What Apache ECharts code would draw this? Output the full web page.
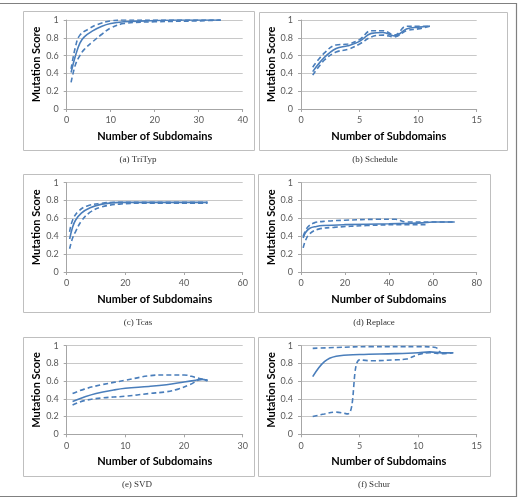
<!DOCTYPE html>
<html><head><meta charset="utf-8">
<script src="https://cdn.jsdelivr.net/npm/echarts@6/dist/echarts.min.js"></script>
<style>html,body{margin:0;padding:0;background:#fff;}#c{width:519px;height:499px;}</style>
</head><body><div id="c"></div>
<script>
// ---- Data (x = number of subdomains, y = mutation score) ----
const captions = ['(a) TriTyp', '(b) Schedule', '(c) Tcas', '(d) Replace', '(e) SVD', '(f) Schur'];
const xMaxes = [40, 15, 60, 80, 30, 15];
const xIntervals = [10, 5, 20, 20, 10, 5];
const yTicks = [0, 0.2, 0.4, 0.6, 0.8, 1];

const tritypMean  = [[1,0.41],[2,0.6],[3,0.74],[4,0.81],[6,0.88],[8,0.93],[10,0.96],[13,0.98],[18,0.99],[25,1.0],[35,1.0]];
const tritypUpper = [[1,0.45],[2,0.7],[3,0.83],[5,0.9],[7,0.95],[10,0.99],[13,1.0],[20,1.0],[35,1.0]];
const tritypLower = [[1,0.3],[2,0.5],[3,0.6],[4,0.67],[6,0.76],[8,0.84],[10,0.91],[13,0.96],[20,0.98],[30,0.99],[35,1.0]];

const scheduleMean  = [[1,0.42],[2,0.58],[3,0.68],[4,0.71],[5,0.76],[6,0.85],[7,0.86],[8,0.82],[9,0.9],[10,0.92],[11,0.93]];
const scheduleUpper = [[1,0.47],[2,0.63],[3,0.72],[4,0.73],[5,0.78],[6,0.88],[7,0.88],[8,0.83],[9,0.93],[10,0.93],[11,0.93]];
const scheduleLower = [[1,0.38],[2,0.55],[3,0.64],[4,0.67],[5,0.73],[6,0.81],[7,0.83],[8,0.81],[9,0.88],[10,0.9],[11,0.93]];

const tcasMean  = [[1,0.37],[2,0.5],[3,0.58],[5,0.66],[8,0.72],[12,0.76],[18,0.78],[30,0.78],[48,0.78]];
const tcasUpper = [[1,0.45],[2,0.58],[4,0.68],[7,0.74],[12,0.77],[16,0.78],[30,0.78],[48,0.78]];
const tcasLower = [[1,0.26],[2,0.38],[3,0.45],[5,0.57],[8,0.67],[12,0.73],[18,0.76],[25,0.77],[48,0.77]];

const replaceMean  = [[1,0.38],[2,0.44],[4,0.49],[7,0.51],[10,0.52],[20,0.53],[40,0.54],[55,0.55],[60,0.56],[70,0.56]];
const replaceUpper = [[1,0.4],[3,0.5],[6,0.55],[12,0.57],[20,0.58],[35,0.59],[43,0.59],[48,0.56],[60,0.56],[70,0.56]];
const replaceLower = [[1,0.27],[2,0.35],[4,0.43],[8,0.48],[15,0.5],[30,0.52],[45,0.53],[58,0.53]];

const svdMean  = [[1,0.37],[3,0.42],[5,0.46],[8,0.5],[10,0.52],[14,0.54],[17,0.56],[20,0.59],[22,0.61],[23,0.62],[24,0.61]];
const svdUpper = [[1,0.46],[3,0.51],[6,0.56],[10,0.61],[14,0.66],[17,0.67],[20,0.67],[22,0.64],[24,0.61]];
const svdLower = [[1,0.33],[3,0.38],[6,0.41],[10,0.43],[14,0.46],[17,0.48],[19,0.51],[21,0.56],[23,0.62],[24,0.6]];

const schurMean  = [[1,0.65],[2,0.82],[3,0.88],[5,0.9],[8,0.91],[10,0.92],[11,0.93],[12,0.92],[13,0.92]];
const schurUpper = [[1,0.97],[3,0.98],[6,0.99],[10,0.99],[11.5,0.98],[12,0.92],[13,0.92]];
const schurLower = [[1,0.2],[2,0.23],[3,0.25],[4,0.23],[5,0.84],[6,0.83],[8,0.84],[9,0.85],[10,0.9],[11,0.92],[12,0.91],[13,0.92]];

const panels = [
  [tritypMean, tritypUpper, tritypLower],
  [scheduleMean, scheduleUpper, scheduleLower],
  [tcasMean, tcasUpper, tcasLower],
  [replaceMean, replaceUpper, replaceLower],
  [svdMean, svdUpper, svdLower],
  [schurMean, schurUpper, schurLower]
];

// ---- Layout ----
const gridPos = [
  {left:66.7, top:20, width:176, height:89},
  {left:301, top:20, width:175.7, height:89},
  {left:66.7, top:182.7, width:176, height:89.3},
  {left:301, top:182.7, width:175.7, height:89.3},
  {left:66.7, top:345.7, width:176, height:88.6},
  {left:301, top:345.7, width:175.7, height:88.6}
];
const boxes = [
  [23,11,231,139],[259,12,248,138],
  [23,174,231,138],[258,174,232,138],
  [23,337,231,139],[258,337,232,139]
];
const capPos = [[138,160],[375,160],[138,322.5],[374,322.5],[137,485],[374,485]];

const blue = '#4a7ebb';
const axisGray = '#a6a6a6';
const grids = [], xAxes = [], yAxes = [], series = [], graphics = [];

gridPos.forEach((g, i) => {
  grids.push(Object.assign({containLabel:false}, g));
  xAxes.push({
    gridIndex:i, type:'value', min:0, max:xMaxes[i], interval:xIntervals[i],
    axisLine:{show:true, onZero:false, lineStyle:{color:axisGray, width:1}},
    axisTick:{show:true, length:3, lineStyle:{color:axisGray}},
    splitLine:{show:false},
    axisLabel:{fontFamily:'Lato', fontSize:9, color:'#595959', margin:7},
    name:'Number of Subdomains', nameLocation:'middle', nameGap:21.5,
    nameTextStyle:{fontFamily:'Lato', fontWeight:'bold', fontSize:11, color:'#000'}
  });
  yAxes.push({
    gridIndex:i, type:'value', min:0, max:1, interval:0.2,
    axisLine:{show:true, onZero:false, lineStyle:{color:axisGray, width:1}},
    axisTick:{show:true, length:3, lineStyle:{color:axisGray}},
    splitLine:{show:true, lineStyle:{color:'#c8c8c8', width:1}},
    axisLabel:{fontFamily:'Lato', fontSize:9, color:'#595959', margin:8,
      formatter: v => String(Math.round(v*10)/10)},
    name:'Mutation Score', nameLocation:'middle', nameGap:22,
    nameTextStyle:{fontFamily:'Lato', fontWeight:'bold', fontSize:11, color:'#000'}
  });
  const [mean, upper, lower] = panels[i];
  const mk = (data, dashed) => ({
    type:'line', xAxisIndex:i, yAxisIndex:i, data:data, smooth:0.4,
    showSymbol:false, symbol:'none', silent:true, animation:false,
    lineStyle:{color:blue, width:1.6, type: dashed ? [5,3] : 'solid'}
  });
  series.push(mk(mean,false), mk(upper,true), mk(lower,true));
  const b = boxes[i];
  graphics.push({type:'rect', shape:{x:b[0]+0.5, y:b[1]+0.5, width:b[2], height:b[3]},
    style:{fill:null, stroke:'#bfbfbf', lineWidth:1}, z:-1, silent:true});
  graphics.push({type:'text', x:capPos[i][0], y:capPos[i][1],
    style:{text:captions[i], font:'9px "Liberation Serif"', fill:'#333', align:'center', verticalAlign:'middle'}, silent:true});
});
// outer frame (left edge is outside the picture)
graphics.push({type:'polyline', shape:{points:[[0,3.5],[516.5,3.5],[516.5,496.5],[0,496.5]]},
  style:{fill:null, stroke:'#808080', lineWidth:1.2}, silent:true});

const chart = echarts.init(document.getElementById('c'), null, {renderer:'canvas'});
chart.setOption({
  animation:false,
  grid:grids, xAxis:xAxes, yAxis:yAxes, series:series, graphic:graphics
});
</script></body></html>
